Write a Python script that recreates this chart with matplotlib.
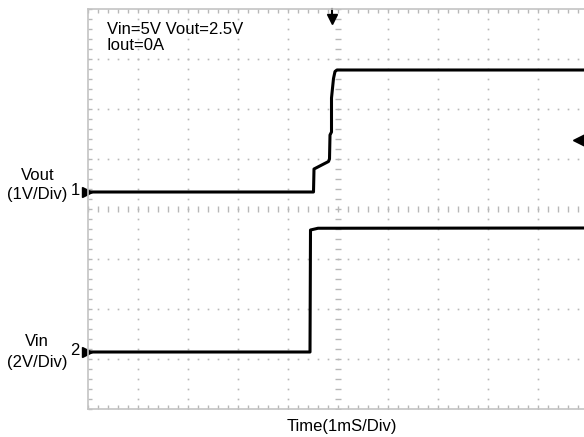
import matplotlib
matplotlib.use("Agg")
import matplotlib.pyplot as plt
import numpy as np

plt.rcParams['font.family'] = ['Liberation Sans', 'DejaVu Sans']

# Traces (time in ms, volts)
t_vout = [0, 4.51, 4.52, 4.81, 4.83, 4.84, 4.87, 4.87, 4.91, 4.94, 4.98, 10]
vout = [0, 0, 0.46, 0.61, 0.66, 1.14, 1.20, 1.88, 2.27, 2.41, 2.44, 2.44]
t_vin = [0, 4.44, 4.45, 4.60, 10]
vin = [0, 0, 4.88, 4.95, 4.96]

# channel scale (V/div) and ground position (divisions from bottom)
vout_scale, vout_gnd = 1.0, 4.34
vin_scale, vin_gnd = 2.0, 1.14
trig_time = 4.88
trig_div = 5.38

W, H = 584, 437
fig = plt.figure(figsize=(W / 100, H / 100), dpi=100)
ax = fig.add_axes([88 / W, 28 / H, 500 / W, 400 / H])
ax.set_xlim(0, 10)
ax.set_ylim(0, 8)
grey = '#b8b8b8'

# dotted graticule
sub = np.arange(0, 10.01, 0.2)
subv = np.arange(0, 8.01, 0.2)
for gy in range(1, 8):
    if gy != 4:
        ax.plot(sub, np.full_like(sub, gy), ls='none', marker='s', ms=1.2, mfc=grey, mec='none')
for gx in range(1, 10):
    if gx != 5:
        ax.plot(np.full_like(subv, gx), subv, ls='none', marker='s', ms=1.2, mfc=grey, mec='none')
# centre lines with small ticks
ax.plot(sub, np.full_like(sub, 4), ls='none', marker='|', ms=5, mew=1, color=grey)
ax.plot(np.full_like(subv, 5), subv, ls='none', marker='_', ms=5, mew=1, color=grey)

for s in ax.spines.values():
    s.set_color('#c4c4c4')
    s.set_linewidth(1.2)
ax.set_xticks(np.arange(0, 10.01, 0.2))
ax.set_yticks(np.arange(0, 8.01, 0.2))
ax.tick_params(which='both', direction='in', length=3, width=1, color=grey,
               top=True, right=True, labelbottom=False, labelleft=False)

# traces
ax.plot(t_vout, np.array(vout) / vout_scale + vout_gnd, color='black', lw=2.2)
ax.plot(t_vin, np.array(vin) / vin_scale + vin_gnd, color='black', lw=2.2)

# trigger markers
ax.plot([trig_time, trig_time], [8.0, 7.78], color='black', lw=1.5, clip_on=False)
ax.plot([trig_time], [7.8], marker='v', ms=7, color='black', clip_on=False)
ax.plot([9.82], [trig_div], marker='<', ms=8, color='black', clip_on=False)

# channel ground markers
for gnd, num in [(vout_gnd, '1'), (vin_gnd, '2')]:
    ax.plot([-0.08, 0.0], [gnd, gnd], color='black', lw=1.5, clip_on=False)
    ax.plot([-0.02], [gnd], marker='>', ms=7, color='black', clip_on=False)
    ax.text(-0.17, gnd + 0.03, num, ha='right', va='center', fontsize=12)

fig.text(38 / W, 1 - 176 / H, 'Vout', ha='center', va='center', fontsize=12)
fig.text(37 / W, 1 - 195 / H, '(1V/Div)', ha='center', va='center', fontsize=12)
fig.text(37 / W, 1 - 342 / H, 'Vin', ha='center', va='center', fontsize=12)
fig.text(37 / W, 1 - 363 / H, '(2V/Div)', ha='center', va='center', fontsize=12)
fig.text(342 / W, 1 - 427 / H, 'Time(1mS/Div)', ha='center', va='center', fontsize=12)
fig.text(107 / W, 1 - 29 / H, 'Vin=5V Vout=2.5V', ha='left', va='center', fontsize=12)
fig.text(107 / W, 1 - 46 / H, 'Iout=0A', ha='left', va='center', fontsize=12)

fig.savefig('out.png', dpi=100)
